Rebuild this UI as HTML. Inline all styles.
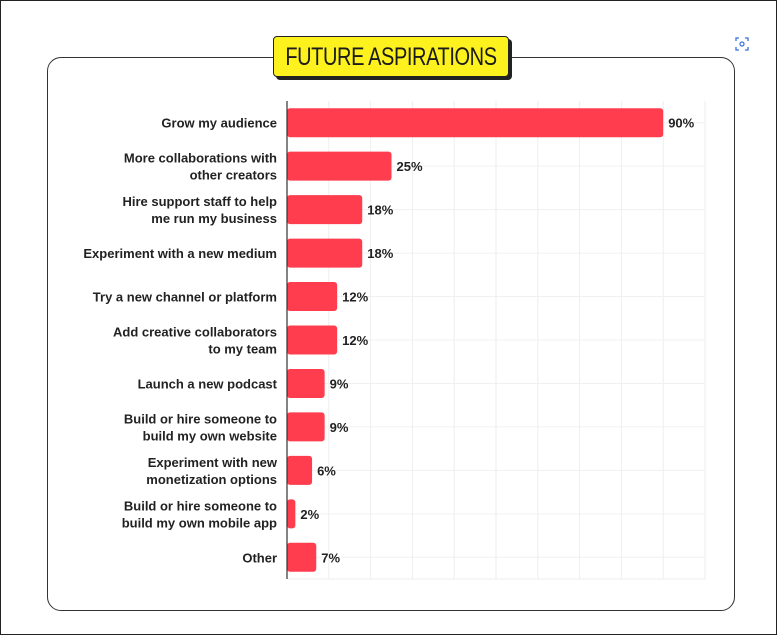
<!DOCTYPE html>
<html><head><meta charset="utf-8"><style>
body{margin:0;width:777px;height:635px;background:#fff;font-family:"Liberation Sans",sans-serif;overflow:hidden}
#frame{position:absolute;left:0;top:0;width:775px;height:633px;border:1px solid #222}
#card{position:absolute;left:47px;top:57px;width:686px;height:552px;border:1.5px solid #333;border-radius:14px}
#title{position:absolute;left:273px;top:36px;width:234px;height:39px;background:#fdf21e;border:1.5px solid #222;border-radius:4px;box-shadow:3px 3px 0 #222;font-size:25px;line-height:40px;color:#1b1b1b;white-space:nowrap;overflow:hidden}
#title span{position:absolute;left:50%;top:0;transform:translateX(-50%) scaleX(0.8);letter-spacing:-0.5px}
</style></head><body>
<div id="frame"></div>
<div id="card"></div>
<div id="title"><span>FUTURE ASPIRATIONS</span></div>
<svg style="position:absolute;left:735px;top:37px" width="14" height="14" viewBox="0 0 14 14"><path d="M1 4V1h3M10 1h3v3M13 10v3h-3M4 13H1v-3" fill="none" stroke="#3a6fd8" stroke-width="1.3"/><circle cx="7" cy="7" r="2" fill="none" stroke="#3a6fd8" stroke-width="1.2"/></svg>
<svg id="chart" style="position:absolute;left:0;top:0" width="777" height="635"></svg>
<script>
const categories=[["Grow my audience"],["More collaborations with","other creators"],["Hire support staff to help","me run my business"],["Experiment with a new medium"],["Try a new channel or platform"],["Add creative collaborators","to my team"],["Launch a new podcast"],["Build or hire someone to","build my own website"],["Experiment with new","monetization options"],["Build or hire someone to","build my own mobile app"],["Other"]];
const values=[90,25,18,18,12,12,9,9,6,2,7];
const ticks=[0,10,20,30,40,50,60,70,80,90,100];
const svg=document.getElementById('chart');const NS='http://www.w3.org/2000/svg';
const x0=287,x1=705,plotTop=101,plotBot=579;
const xs=v=>x0+(x1-x0)*v/100;
const band=(plotBot-plotTop)/categories.length;
const yc=i=>plotTop+band*(i+0.5);
function mk(t,a){const e=document.createElementNS(NS,t);for(const k in a)e.setAttribute(k,a[k]);svg.appendChild(e);return e;}
ticks.forEach(t=>{const l=mk('line',{x1:xs(t),x2:xs(t),y1:plotTop,y2:plotBot,stroke:'#eeeeee'});

});
categories.forEach((c,i)=>{const l=mk('line',{x1:x0,x2:x1,y1:yc(i),y2:yc(i),stroke:'#f0f0f0'});

});
mk('line',{x1:x0,x2:x1,y1:plotBot,y2:plotBot,stroke:'#eeeeee'});
categories.forEach((c,i)=>{
const r=mk('rect',{x:x0,y:yc(i)-14.5,width:xs(values[i])-x0,height:29,rx:3,fill:'#ff3d4e'});


const v=mk('text',{x:xs(values[i])+5,y:yc(i)+5,'font-size':13,'font-weight':'bold',fill:'#222'});v.textContent=values[i]+'%';


c.forEach((line,j)=>{const t=mk('text',{x:277,y:yc(i)+5+(j-(c.length-1)/2)*17,'font-size':13,'font-weight':'bold',fill:'#222','text-anchor':'end'});t.textContent=line;

});
});
const ax=mk('line',{x1:x0,x2:x0,y1:plotTop,y2:plotBot,stroke:'#333','stroke-width':1.2});


</script>
</body></html>
